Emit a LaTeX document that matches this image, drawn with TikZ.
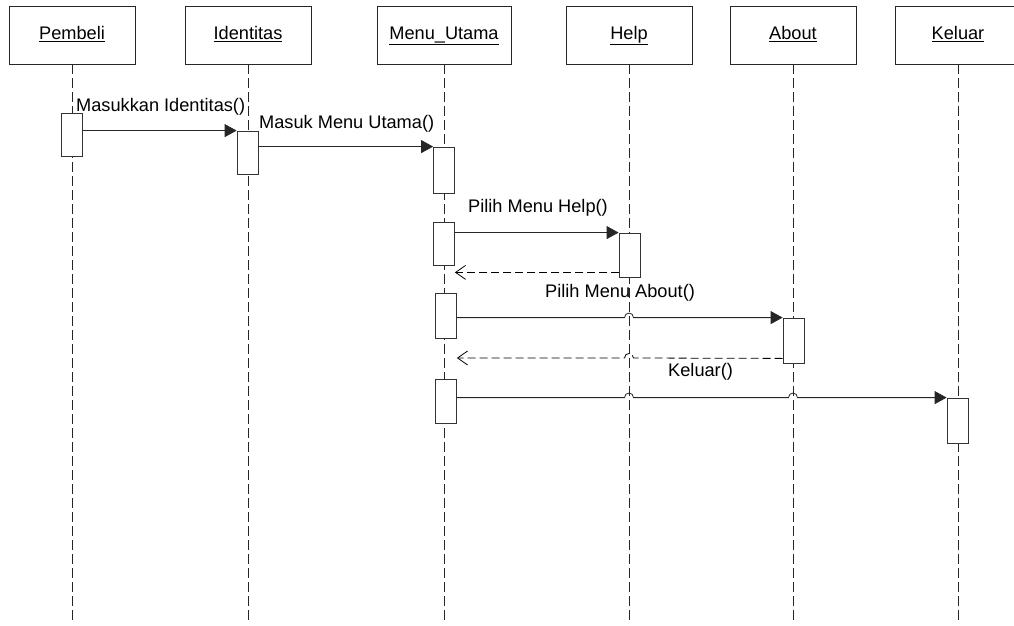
\documentclass[tikz,border=0pt]{standalone}
\usepackage{fontspec}
\setmainfont{Liberation Sans}
\usetikzlibrary{arrows.meta,calc}

\begin{document}
\begin{tikzpicture}[x=1pt,y=-1pt,
  font=\fontsize{18.2}{21}\selectfont,
  objbox/.style={draw=black!85, line width=0.8pt, fill=white, minimum width=126pt, minimum height=58pt, inner sep=0pt, text height=13pt, text depth=4pt},
  actbox/.style={draw=black!80, line width=0.8pt, fill=white, minimum width=21pt, inner sep=0pt},
  lifeline/.style={draw=black!85, line width=0.8pt, dash pattern=on 10pt off 4pt},
  callmsg/.style={draw=black!85, line width=0.8pt, -{Triangle[length=12pt,width=13pt]}},
  retmsg/.style={draw=black, line width=0.8pt, dash pattern=on 8pt off 4pt, -{Straight Barb[length=10pt,width=14pt,line width=0.8pt]}},
  msglabel/.style={inner sep=0pt, anchor=west}
]
\useasboundingbox (0,0) rectangle (1014,626);

% objects
\node[objbox] (pembeli) at (72,35) {\underline{Pembeli}};
\node[objbox] (identitas) at (248,35) {\underline{Identitas}};
\node[objbox, minimum width=134pt] (menu) at (444,35) {\underline{Menu\_Utama}};
\node[objbox] (help) at (629,35) {\underline{Help}};
\node[objbox] (about) at (793,35) {\underline{About}};
\node[objbox] (keluar) at (958,35) {\underline{Keluar}};

% lifelines
\foreach \o in {pembeli,identitas,menu,help,about,keluar}{
  \coordinate (\o-end) at ($(\o.south)+(0,559)$);
  \draw[lifeline] (\o.south) -- (\o-end);
}

% activations
\node[actbox, minimum height=43pt] (a1) at (72,134.5) {};
\node[actbox, minimum height=43pt] (a2) at (247.5,152.5) {};
\node[actbox, minimum height=46pt] (a3) at (444,170) {};
\node[actbox, minimum height=43pt] (a4) at (444,243.5) {};
\node[actbox, minimum height=44pt] (a5) at (629.5,255) {};
\node[actbox, minimum height=45pt] (a6) at (446,315.5) {};
\node[actbox, minimum height=45pt] (a7) at (793.5,340.5) {};
\node[actbox, minimum height=44pt] (a8) at (446,401) {};
\node[actbox, minimum height=45pt] (a9) at (957.5,420.5) {};

% messages
\draw[callmsg] (a1.east |- a2.north) -- (a2.north west);
\node[msglabel] (l1) at (76,107) {Masukkan Identitas()};

\draw[callmsg] (a2.east |- a3.north) -- (a3.north west);
\node[msglabel] (l2) at (259,124) {Masuk Menu Utama()};

\draw[callmsg] (a4.east |- a5.north) -- (a5.north west);
\node[msglabel] (l3) at (468,208) {Pilih Menu Help()};

\draw[retmsg] ($(a5.south west)+(0,-5)$) -- ($(a4.east |- a5.south)+(0,-5)$);

% call to About, hopping over the Help lifeline
\coordinate (c6) at (help.south |- a7.north);
\draw[callmsg] (a6.east |- a7.north) -- ($(c6)+(-4.5,0)$)
  .. controls ($(c6)+(-4.5,-6)$) and ($(c6)+(4.5,-6)$) .. ($(c6)+(4.5,0)$)
  -- (a7.north west);
\node[msglabel] (l4) at (545,293) {Pilih Menu About()};

% return from About, hopping over the Help lifeline
\coordinate (c7) at (help.south |- 0,358);
\draw[retmsg] ($(a7.south west)+(0,-5)$) -- ($(c7)+(4.5,0)$)
  .. controls ($(c7)+(4.5,-6)$) and ($(c7)+(-4.5,-6)$) .. ($(c7)+(-4.5,0)$)
  -- ($(a6.east |- c7)$);

% call to Keluar, hopping over the Help and About lifelines
\coordinate (c8) at (help.south |- a9.north);
\coordinate (c9) at (about.south |- a9.north);
\draw[callmsg] (a8.east |- a9.north) -- ($(c8)+(-4.5,0)$)
  .. controls ($(c8)+(-4.5,-6)$) and ($(c8)+(4.5,-6)$) .. ($(c8)+(4.5,0)$)
  -- ($(c9)+(-4.5,0)$)
  .. controls ($(c9)+(-4.5,-6)$) and ($(c9)+(4.5,-6)$) .. ($(c9)+(4.5,0)$)
  -- (a9.north west);
\node[msglabel] (l5) at (668,372) {Keluar()};
\end{tikzpicture}
\end{document}
